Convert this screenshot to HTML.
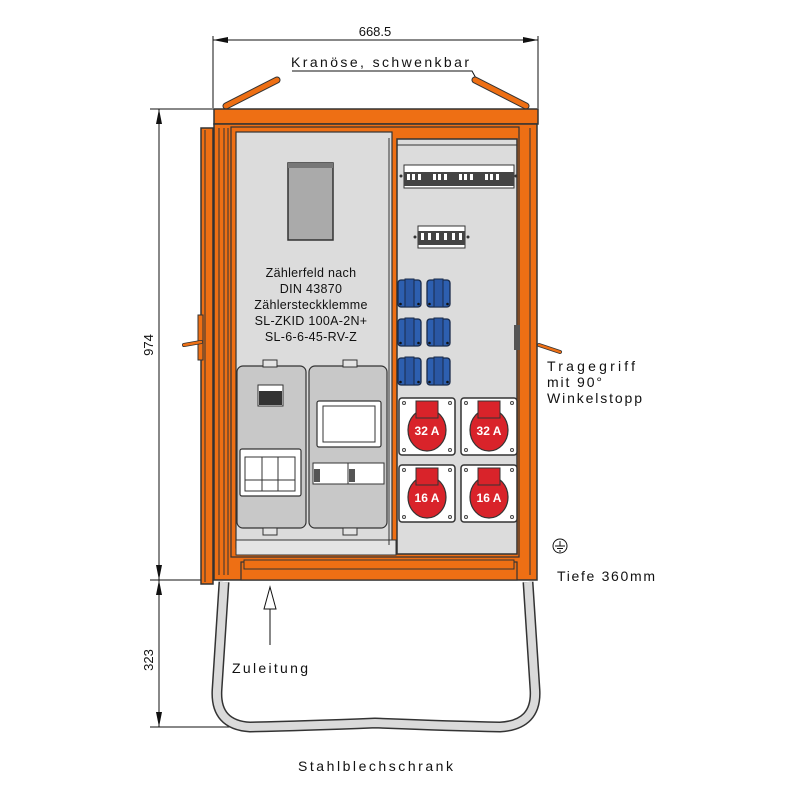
<!DOCTYPE html>
<html><head><meta charset="utf-8"><style>
html,body{margin:0;padding:0;background:#fff;}
svg{display:block}
text{font-family:"Liberation Sans","DejaVu Sans",sans-serif;fill:#111}
</style></head><body>
<svg width="800" height="800" viewBox="0 0 800 800" xmlns="http://www.w3.org/2000/svg">
<defs>
<g id="bsock">
<rect x="0" y="0" width="23" height="27" rx="3" fill="#2d5fb0" stroke="#1a2b4a" stroke-width="1.3"/>
<rect x="7" y="-1" width="9" height="28" fill="#2a57a4" stroke="#1a2b4a" stroke-width="1"/>
<circle cx="2.5" cy="24" r="1.3" fill="#111"/><circle cx="20.5" cy="24" r="1.3" fill="#111"/>
</g>
<g id="rsock">
<rect x="0" y="0" width="56" height="57" rx="3" fill="#fff" stroke="#333" stroke-width="1.5"/>
<circle cx="5" cy="5" r="1.5" fill="none" stroke="#444"/><circle cx="51" cy="5" r="1.5" fill="none" stroke="#444"/>
<circle cx="5" cy="52" r="1.5" fill="none" stroke="#444"/><circle cx="51" cy="52" r="1.5" fill="none" stroke="#444"/>
<ellipse cx="28" cy="32" rx="19" ry="21" fill="#d9232a" stroke="#333" stroke-width="1.2"/>
<rect x="17" y="3" width="22" height="17" fill="#d9232a" stroke="#333" stroke-width="1"/>
</g>
</defs>

<line x1="213" y1="40" x2="538" y2="40" stroke="#111" stroke-width="1"/>
<polygon points="213,40 228,37 228,43" fill="#111"/><polygon points="538,40 523,37 523,43" fill="#111"/>
<line x1="213" y1="36" x2="213" y2="108" stroke="#111"/><line x1="538" y1="36" x2="538" y2="108" stroke="#111"/>
<text x="375" y="36" font-size="13" text-anchor="middle">668.5</text>
<text x="291" y="67" font-size="14" textLength="178" lengthAdjust="spacing">Kranöse, schwenkbar</text>
<polyline points="292,71 472,71 477,80" fill="none" stroke="#111"/>
<line x1="226" y1="106" x2="277" y2="80" stroke="#333" stroke-width="7" stroke-linecap="round"/>
<line x1="226" y1="106" x2="277" y2="80" stroke="#ee6f14" stroke-width="5" stroke-linecap="round"/>
<line x1="475" y1="80" x2="526" y2="106" stroke="#333" stroke-width="7" stroke-linecap="round"/>
<line x1="475" y1="80" x2="526" y2="106" stroke="#ee6f14" stroke-width="5" stroke-linecap="round"/>

<line x1="150" y1="109" x2="214" y2="109" stroke="#111"/>
<line x1="150" y1="580" x2="214" y2="580" stroke="#111"/>
<line x1="150" y1="727" x2="240" y2="727" stroke="#111"/>
<line x1="159" y1="109" x2="159" y2="727" stroke="#111"/>
<polygon points="159,109 156,124 162,124" fill="#111"/>
<polygon points="159,580 156,565 162,565" fill="#111"/>
<polygon points="159,580 156,595 162,595" fill="#111"/>
<polygon points="159,727 156,712 162,712" fill="#111"/>
<text x="0" y="0" font-size="13" text-anchor="middle" transform="translate(153,345) rotate(-90)">974</text>
<text x="0" y="0" font-size="13" text-anchor="middle" transform="translate(153,660) rotate(-90)">323</text>

<path d="M224,582 L217,690 Q215,725 250,727 Q300,726 375,723 Q450,726 500,727 Q537,725 535,690 L528,582" fill="none" stroke="#333" stroke-width="11"/>
<path d="M224,582 L217,690 Q215,725 250,727 Q300,726 375,723 Q450,726 500,727 Q537,725 535,690 L528,582" fill="none" stroke="#dadada" stroke-width="8"/>

<rect x="214" y="109" width="324" height="15" fill="#ee6f14" stroke="#333" stroke-width="1.5"/>
<rect x="214" y="124" width="323" height="456" fill="#ee6f14" stroke="#333" stroke-width="1.5"/>
<rect x="201" y="128" width="12" height="456" fill="#ee6f14" stroke="#333" stroke-width="1.5"/>
<line x1="205" y1="130" x2="205" y2="582" stroke="#333"/>
<line x1="219" y1="128" x2="219" y2="575" stroke="#333"/>
<line x1="224" y1="128" x2="224" y2="575" stroke="#333"/>
<line x1="228" y1="128" x2="228" y2="575" stroke="#333"/>
<rect x="198" y="315" width="5" height="45" fill="#ee6f14" stroke="#333"/>
<line x1="184" y1="345" x2="201" y2="342" stroke="#333" stroke-width="4" stroke-linecap="round"/>
<line x1="184" y1="345" x2="201" y2="342" stroke="#ee6f14" stroke-width="2.5" stroke-linecap="round"/>
<rect x="231" y="127" width="288" height="430" fill="none" stroke="#333" stroke-width="1.2"/>
<rect x="236" y="132" width="156" height="416" fill="#dcdcdc" stroke="#333" stroke-width="1.2"/>
<rect x="236" y="540" width="160" height="15" fill="#e4e4e4" stroke="#333" stroke-width="1"/>
<line x1="389" y1="138" x2="389" y2="545" stroke="#333"/>
<rect x="288" y="163" width="45" height="77" fill="#aaa" stroke="#333" stroke-width="1.5"/>
<rect x="288" y="163" width="45" height="5" fill="#777"/>
<g font-size="12.5" text-anchor="middle" letter-spacing="0.3">
<text x="311" y="277">Zählerfeld nach</text>
<text x="311" y="293">DIN 43870</text>
<text x="311" y="309">Zählersteckklemme</text>
<text x="311" y="325">SL-ZKID 100A-2N+</text>
<text x="311" y="341">SL-6-6-45-RV-Z</text>
</g>
<rect x="237" y="366" width="69" height="162" rx="6" fill="#c8c8c8" stroke="#333" stroke-width="1.2"/>
<rect x="309" y="366" width="78" height="162" rx="6" fill="#c8c8c8" stroke="#333" stroke-width="1.2"/>
<rect x="258" y="385" width="25" height="21" fill="#fff" stroke="#333"/>
<rect x="259" y="391" width="23" height="14" fill="#333"/>
<rect x="240" y="449" width="61" height="47" rx="2" fill="#fff" stroke="#333" stroke-width="1.2"/>
<rect x="245" y="457" width="50" height="34" fill="#fff" stroke="#333"/>
<line x1="262" y1="457" x2="262" y2="491" stroke="#333"/><line x1="278" y1="457" x2="278" y2="491" stroke="#333"/>
<line x1="245" y1="480" x2="295" y2="480" stroke="#333"/>
<rect x="317" y="401" width="64" height="46" rx="2" fill="#fff" stroke="#333" stroke-width="1.2"/>
<rect x="323" y="406" width="52" height="36" fill="#fff" stroke="#333"/>
<rect x="313" y="463" width="71" height="21" fill="#fff" stroke="#333"/>
<line x1="348" y1="463" x2="348" y2="484" stroke="#333"/>
<rect x="314" y="469" width="6" height="13" fill="#555"/><rect x="349" y="469" width="6" height="13" fill="#555"/>
<g fill="#e4e4e4" stroke="#333"><rect x="263" y="360" width="14" height="7"/><rect x="343" y="360" width="14" height="7"/><rect x="263" y="528" width="14" height="7"/><rect x="343" y="528" width="14" height="7"/></g>
<rect x="397" y="139" width="120" height="415" fill="#dcdcdc" stroke="#333" stroke-width="1.5"/>
<line x1="397" y1="145" x2="517" y2="145" stroke="#333"/>
<g>
<rect x="404" y="165" width="110" height="23" fill="#fff" stroke="#333"/>
<rect x="404" y="172" width="110" height="14" fill="#444"/>
<g fill="#fff"><rect x="407" y="174" width="3" height="6"/><rect x="412" y="174" width="3" height="6"/><rect x="418" y="174" width="3" height="6"/>
<rect x="433" y="174" width="3" height="6"/><rect x="438" y="174" width="3" height="6"/><rect x="444" y="174" width="3" height="6"/>
<rect x="459" y="174" width="3" height="6"/><rect x="464" y="174" width="3" height="6"/><rect x="470" y="174" width="3" height="6"/>
<rect x="485" y="174" width="3" height="6"/><rect x="490" y="174" width="3" height="6"/><rect x="496" y="174" width="3" height="6"/></g>
<circle cx="401" cy="176" r="1.5" fill="#333"/><circle cx="516" cy="176" r="1.5" fill="#333"/>
<rect x="418" y="226" width="47" height="22" fill="#fff" stroke="#333"/>
<rect x="418" y="231" width="47" height="14" fill="#444"/>
<g fill="#fff"><rect x="421" y="233" width="3" height="7"/><rect x="428" y="233" width="3" height="7"/><rect x="436" y="233" width="3" height="7"/><rect x="444" y="233" width="3" height="7"/><rect x="452" y="233" width="3" height="7"/><rect x="459" y="233" width="3" height="7"/></g>
<circle cx="415" cy="237" r="1.5" fill="#333"/><circle cx="468" cy="237" r="1.5" fill="#333"/>
</g>
<use href="#bsock" x="398" y="280"/><use href="#bsock" x="427" y="280"/>
<use href="#bsock" x="398" y="319"/><use href="#bsock" x="427" y="319"/>
<use href="#bsock" x="398" y="358"/><use href="#bsock" x="427" y="358"/>
<use href="#rsock" x="399" y="398"/><use href="#rsock" x="461" y="398"/>
<use href="#rsock" x="399" y="465"/><use href="#rsock" x="461" y="465"/>
<g font-size="12" font-weight="bold" text-anchor="middle">
<text x="427" y="435" style="fill:#fff">32 A</text><text x="489" y="435" style="fill:#fff">32 A</text>
<text x="427" y="502" style="fill:#fff">16 A</text><text x="489" y="502" style="fill:#fff">16 A</text>
</g>
<line x1="530" y1="128" x2="530" y2="575" stroke="#333"/>
<rect x="514" y="325" width="6" height="25" fill="#555"/>
<line x1="539" y1="345" x2="560" y2="352" stroke="#333" stroke-width="4" stroke-linecap="round"/>
<line x1="539" y1="345" x2="560" y2="352" stroke="#ee6f14" stroke-width="2.5" stroke-linecap="round"/>
<rect x="241" y="562" width="276" height="18" fill="#ee6f14" stroke="#333" stroke-width="1.2"/>
<rect x="244" y="560" width="270" height="9" fill="#ee6f14" stroke="#333"/>

<line x1="270" y1="645" x2="270" y2="600" stroke="#111"/>
<polygon points="270,587 264,609 276,609" fill="#fff" stroke="#111"/>
<text x="232" y="673" font-size="14" textLength="76" lengthAdjust="spacing">Zuleitung</text>
<text x="298" y="771" font-size="14" textLength="155" lengthAdjust="spacing">Stahlblechschrank</text>
<g font-size="14">
<text x="547" y="371" textLength="88" lengthAdjust="spacing">Tragegriff</text>
<text x="547" y="387" textLength="55" lengthAdjust="spacing">mit 90°</text>
<text x="547" y="403" textLength="95" lengthAdjust="spacing">Winkelstopp</text>
<text x="557" y="581" textLength="98" lengthAdjust="spacing">Tiefe 360mm</text>
</g>
<circle cx="560" cy="546" r="7" fill="none" stroke="#111"/>
<line x1="560" y1="541" x2="560" y2="546" stroke="#111"/>
<line x1="555" y1="546" x2="565" y2="546" stroke="#111"/><line x1="557" y1="548.5" x2="563" y2="548.5" stroke="#111"/><line x1="559" y1="551" x2="561" y2="551" stroke="#111"/>
</svg>
</body></html>
